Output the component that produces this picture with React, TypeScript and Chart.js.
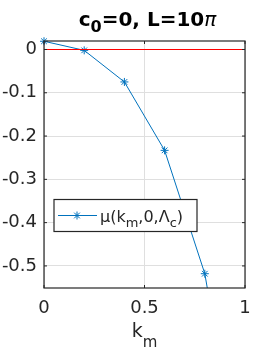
import React, { useEffect, useRef } from "react";
import { Chart, registerables } from "chart.js";

Chart.register(...registerables);

const km = [0, 0.2, 0.4, 0.6, 0.8, 1.0];
const mu = [0.019, -0.002, -0.075, -0.233, -0.518, -1.05];
const refX = [0, 1];
const refY = [0, 0];
const xTicks = [0, 0.5, 1];
const yTicks = [0, -0.1, -0.2, -0.3, -0.4, -0.5];

const FONT = "'DejaVu Sans', sans-serif";
const BLUE = "#0072BD";
const AX = "#262626";

type Part = { t: string; f: string; dy?: number };

function drawRich(ctx: CanvasRenderingContext2D, parts: Part[], x: number, y: number, align: "left" | "center") {
  let w = 0;
  for (const p of parts) {
    ctx.font = p.f;
    w += ctx.measureText(p.t).width;
  }
  let cx = align === "center" ? x - w / 2 : x;
  ctx.textBaseline = "alphabetic";
  ctx.textAlign = "left";
  for (const p of parts) {
    ctx.font = p.f;
    ctx.fillText(p.t, cx, y + (p.dy || 0));
    cx += ctx.measureText(p.t).width;
  }
}

const decor = {
  id: "decor",
  afterDraw(chart: any) {
    const ctx: CanvasRenderingContext2D = chart.ctx;
    const ca = chart.chartArea;
    const xs = chart.scales.x;
    const ys = chart.scales.y;
    ctx.save();
    // frame
    ctx.strokeStyle = AX;
    ctx.lineWidth = 1.2;
    ctx.strokeRect(ca.left, ca.top, ca.right - ca.left, ca.bottom - ca.top);
    // inside ticks
    ctx.lineWidth = 1;
    ctx.beginPath();
    const tl = 3;
    for (const v of xTicks) {
      const px = xs.getPixelForValue(v);
      ctx.moveTo(px, ca.bottom);
      ctx.lineTo(px, ca.bottom - tl);
      ctx.moveTo(px, ca.top);
      ctx.lineTo(px, ca.top + tl);
    }
    for (const v of yTicks) {
      const py = ys.getPixelForValue(v);
      ctx.moveTo(ca.left, py);
      ctx.lineTo(ca.left + tl, py);
      ctx.moveTo(ca.right, py);
      ctx.lineTo(ca.right - tl, py);
    }
    ctx.stroke();

    // title
    ctx.fillStyle = "#000";
    drawRich(
      ctx,
      [
        { t: "c", f: `bold 20px ${FONT}` },
        { t: "0", f: `bold 16px ${FONT}`, dy: 6 },
        { t: "=0, L=10", f: `bold 20px ${FONT}` },
        { t: "π", f: `italic 20px ${FONT}` },
      ],
      (ca.left + ca.right) / 2 + 3,
      26,
      "center"
    );

    // x label
    ctx.fillStyle = AX;
    drawRich(
      ctx,
      [
        { t: "k", f: `19px ${FONT}` },
        { t: "m", f: `15px ${FONT}`, dy: 10 },
      ],
      (ca.left + ca.right) / 2,
      ca.bottom + 49,
      "center"
    );

    // legend
    const lx = ca.left + 10;
    const ly = ca.top + 158.5;
    const lw = 143;
    const lh = 32;
    ctx.fillStyle = "#fff";
    ctx.fillRect(lx, ly, lw, lh);
    ctx.strokeStyle = AX;
    ctx.lineWidth = 1.2;
    ctx.strokeRect(lx, ly, lw, lh);
    const my = ly + lh / 2;
    ctx.strokeStyle = BLUE;
    ctx.lineWidth = 1;
    ctx.beginPath();
    ctx.moveTo(lx + 4, my);
    ctx.lineTo(lx + 43, my);
    ctx.stroke();
    const sx = lx + 23;
    const r = 4;
    ctx.beginPath();
    for (let i = 0; i < 4; i++) {
      const a = (i * Math.PI) / 4;
      ctx.moveTo(sx - r * Math.cos(a), my - r * Math.sin(a));
      ctx.lineTo(sx + r * Math.cos(a), my + r * Math.sin(a));
    }
    ctx.stroke();
    ctx.fillStyle = AX;
    drawRich(
      ctx,
      [
        { t: "μ(k", f: `16px ${FONT}` },
        { t: "m", f: `13px ${FONT}`, dy: 5 },
        { t: ",0,Λ", f: `16px ${FONT}` },
        { t: "c", f: `13px ${FONT}`, dy: 5 },
        { t: ")", f: `16px ${FONT}` },
      ],
      lx + 46,
      my + 6,
      "left"
    );
    ctx.restore();
  },
};

export default function App() {
  const ref = useRef<HTMLCanvasElement>(null);
  useEffect(() => {
    if (!ref.current) return;
    const chart = new Chart(ref.current, {
      type: "line",
      data: {
        datasets: [
          {
            data: refX.map((x, i) => ({ x, y: refY[i] })),
            borderColor: "#ff0000",
            borderWidth: 1.2,
            pointRadius: 0,
            clip: { left: 0, right: 0, top: 0, bottom: 0 },
          },
          {
            data: km.map((x, i) => ({ x, y: mu[i] })),
            borderColor: BLUE,
            backgroundColor: BLUE,
            borderWidth: 1,
            pointStyle: "star",
            pointRadius: 4,
            pointBorderWidth: 1,
            pointBorderColor: BLUE,
            clip: { left: 6, right: 6, top: 8, bottom: 0 },
          },
        ],
      },
      options: {
        responsive: false,
        animation: false,
        events: [],
        layout: { padding: { left: 0, right: 26, top: 41, bottom: 0 } },
        plugins: { legend: { display: false }, tooltip: { enabled: false }, title: { display: false } },
        scales: {
          x: {
            type: "linear",
            min: 0,
            max: 1,
            afterBuildTicks: (s: any) => {
              s.ticks = xTicks.map((v) => ({ value: v }));
            },
            afterFit: (s: any) => {
              s.height = 64;
            },
            grid: { color: "#dfdfdf", drawTicks: false, lineWidth: 1 },
            border: { display: false },
            ticks: {
              padding: 10,
              color: AX,
              font: { family: "DejaVu Sans", size: 18 },
              maxRotation: 0,
              callback: (v: any) => String(Math.round(Number(v) * 10) / 10),
            },
          },
          y: {
            type: "linear",
            min: -0.551,
            max: 0.0196,
            afterBuildTicks: (s: any) => {
              s.ticks = yTicks.map((v) => ({ value: v }));
            },
            afterFit: (s: any) => {
              s.width = 44;
            },
            grid: { color: "#dfdfdf", drawTicks: false, lineWidth: 1 },
            border: { display: false },
            ticks: {
              padding: 7,
              color: AX,
              font: { family: "DejaVu Sans", size: 18 },
              callback: (v: any) => String(Math.round(Number(v) * 10) / 10),
            },
          },
        },
      },
      plugins: [decor],
    } as any);
    return () => chart.destroy();
  }, []);
  return (
    <div style={{ position: "fixed", left: 0, top: 0, width: 271, height: 352, background: "#fff" }}>
      <canvas ref={ref} width={271} height={352} style={{ width: 271, height: 352 }} />
    </div>
  );
}
